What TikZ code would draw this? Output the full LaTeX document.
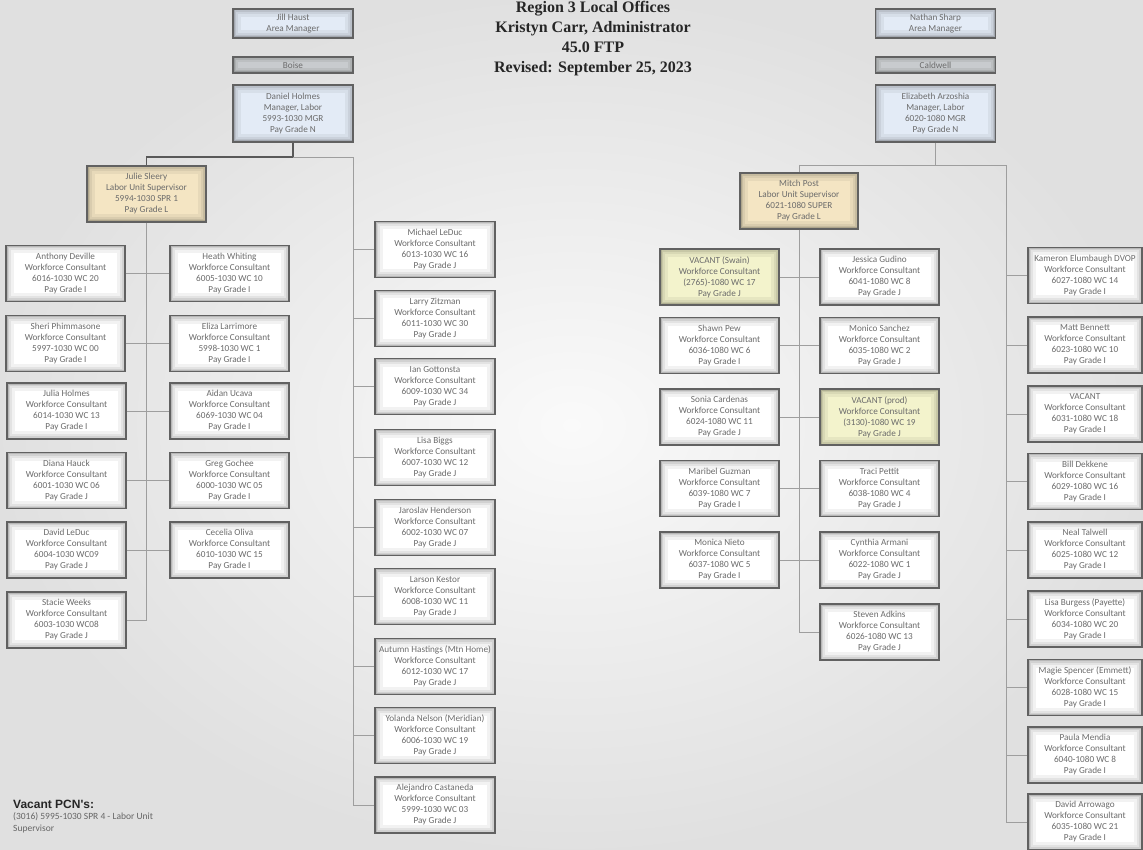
\documentclass[tikz,border=0pt]{standalone}
\usepackage{fontspec}
\setmainfont{Carlito}
\newfontfamily\titlefont{Liberation Serif}
\newfontfamily\notefont{Liberation Sans}
\usepackage{xcolor}
\usepackage{tikz}
\usetikzlibrary{positioning,calc}

\definecolor{bluefill}{HTML}{E3EBF6}
\definecolor{tanfill}{HTML}{F4E5C3}
\definecolor{vacfill}{HTML}{F3F3CC}
\definecolor{bosfill}{HTML}{D3D6DA}

\begin{document}
\begin{tikzpicture}[
    x=1pt, y=-1pt,
    box/.style={draw=black!62, line width=1.4pt, fill=#1, inner sep=1pt,
                minimum width=119pt, minimum height=56pt, align=center,
                font=\fontsize{9.2}{11}\selectfont, text=black!58,
                path picture={
                  \draw[black, opacity=0.05, line width=16pt] (path picture bounding box.south west) rectangle (path picture bounding box.north east);
                  \draw[black, opacity=0.06, line width=10pt] (path picture bounding box.south west) rectangle (path picture bounding box.north east);
                  \draw[black, opacity=0.08, line width=6pt] (path picture bounding box.south west) rectangle (path picture bounding box.north east);
                  \draw[black, opacity=0.12, line width=3pt] (path picture bounding box.south west) rectangle (path picture bounding box.north east);
                }},
    box/.default=white,
    lnk/.style={draw=black!38, line width=0.7pt},
    suplnk/.style={draw=black!65, line width=1.2pt},
]

% ===== Background =====
\useasboundingbox (0,0) rectangle (1143,850);
\shade[inner color=black!2, outer color=black!12] (0,0) rectangle (1143,850);

% ===== Title =====
\node[font=\titlefont\bfseries\fontsize{16}{20}\selectfont, align=center, text=black!85]
    (tt) at (593,39) {Region 3 Local Offices\\Kristyn Carr, Administrator\\45.0 FTP\\Revised: September 25, 2023};

% ===== Left office (Boise) =====
\node[box=bluefill, minimum width=120pt, minimum height=29pt] (jh) at (293,23.5) {Jill Haust\\Area Manager};
\node[box=bosfill, minimum width=120pt, minimum height=16pt] (bo) at (293,65) {Boise};
\node[box=bluefill, minimum width=120pt, minimum height=57pt] (dh) at (293,113.5)
    {Daniel Holmes\\Manager, Labor\\5993-1030 MGR\\Pay Grade N};
\node[box=tanfill] (js) at (146.5,194) {Julie Sleery\\Labor Unit Supervisor\\5994-1030 SPR 1\\Pay Grade L};

% left column A
\node[box] (la1) at (65.5,273.5) {Anthony Deville\\Workforce Consultant\\6016-1030 WC 20\\Pay Grade I};
\node[box] (la2) at (65.5,343.5) {Sheri Phimmasone\\Workforce Consultant\\5997-1030 WC 00\\Pay Grade I};
\node[box] (la3) at (66.5,411)   {Julia Holmes\\Workforce Consultant\\6014-1030 WC 13\\Pay Grade I};
\node[box] (la4) at (66.5,480.5) {Diana Hauck\\Workforce Consultant\\6001-1030 WC 06\\Pay Grade J};
\node[box] (la5) at (66.5,550)   {David LeDuc\\Workforce Consultant\\6004-1030 WC09\\Pay Grade J};
\node[box] (la6) at (66.5,620)   {Stacie Weeks\\Workforce Consultant\\6003-1030 WC08\\Pay Grade J};

% left column B
\node[box] (lb1) at (229.5,273.5) {Heath Whiting\\Workforce Consultant\\6005-1030 WC 10\\Pay Grade I};
\node[box] (lb2) at (229.5,343.5) {Eliza Larrimore\\Workforce Consultant\\5998-1030 WC 1\\Pay Grade I};
\node[box] (lb3) at (229.5,411)   {Aidan Ucava\\Workforce Consultant\\6069-1030 WC 04\\Pay Grade I};
\node[box] (lb4) at (229.5,480.5) {Greg Gochee\\Workforce Consultant\\6000-1030 WC 05\\Pay Grade I};
\node[box] (lb5) at (229.5,550)   {Cecelia Oliva\\Workforce Consultant\\6010-1030 WC 15\\Pay Grade I};

% middle column
\node[box, minimum width=120pt] (mc1) at (435,249.5) {Michael LeDuc\\Workforce Consultant\\6013-1030 WC 16\\Pay Grade J};
\node[box, minimum width=120pt] (mc2) at (435,318.5) {Larry Zitzman\\Workforce Consultant\\6011-1030 WC 30\\Pay Grade J};
\node[box, minimum width=120pt] (mc3) at (435,386.5) {Ian Gottonsta\\Workforce Consultant\\6009-1030 WC 34\\Pay Grade J};
\node[box, minimum width=120pt] (mc4) at (435,457.5) {Lisa Biggs\\Workforce Consultant\\6007-1030 WC 12\\Pay Grade J};
\node[box, minimum width=120pt] (mc5) at (435,527.5) {Jaroslav Henderson\\Workforce Consultant\\6002-1030 WC 07\\Pay Grade J};
\node[box, minimum width=120pt] (mc6) at (435,596.5) {Larson Kestor\\Workforce Consultant\\6008-1030 WC 11\\Pay Grade J};
\node[box, minimum width=120pt] (mc7) at (435,666.5) {Autumn Hastings (Mtn Home)\\Workforce Consultant\\6012-1030 WC 17\\Pay Grade J};
\node[box, minimum width=120pt] (mc8) at (435,735.5) {Yolanda Nelson (Meridian)\\Workforce Consultant\\6006-1030 WC 19\\Pay Grade J};
\node[box, minimum width=120pt] (mc9) at (435,805)   {Alejandro Castaneda\\Workforce Consultant\\5999-1030 WC 03\\Pay Grade J};

% ===== Right office (Caldwell) =====
\node[box=bluefill, minimum width=120pt, minimum height=29pt] (ns) at (935.5,23.5) {Nathan Sharp\\Area Manager};
\node[box=bosfill, minimum width=120pt, minimum height=16pt] (cw) at (935.5,65) {Caldwell};
\node[box=bluefill, minimum width=120pt, minimum height=57pt] (ea) at (935.5,113.5)
    {Elizabeth Arzoshia\\Manager, Labor\\6020-1080 MGR\\Pay Grade N};
\node[box=tanfill, minimum width=118pt] (mp) at (799,201) {Mitch Post\\Labor Unit Supervisor\\6021-1080 SUPER\\Pay Grade L};

% right column A
\node[box=vacfill] (ra1) at (719.5,277)   {VACANT (Swain)\\Workforce Consultant\\(2765)-1080 WC 17\\Pay Grade J};
\node[box] (ra2) at (719.5,345.5) {Shawn Pew\\Workforce Consultant\\6036-1080 WC 6\\Pay Grade I};
\node[box] (ra3) at (719.5,417)   {Sonia Cardenas\\Workforce Consultant\\6024-1080 WC 11\\Pay Grade J};
\node[box] (ra4) at (719.5,488.5) {Maribel Guzman\\Workforce Consultant\\6039-1080 WC 7\\Pay Grade I};
\node[box] (ra5) at (719.5,560)   {Monica Nieto\\Workforce Consultant\\6037-1080 WC 5\\Pay Grade I};

% right column B
\node[box] (rb1) at (879.5,277)   {Jessica Gudino\\Workforce Consultant\\6041-1080 WC 8\\Pay Grade J};
\node[box] (rb2) at (879.5,345.5) {Monico Sanchez\\Workforce Consultant\\6035-1080 WC 2\\Pay Grade J};
\node[box=vacfill] (rb3) at (879.5,417) {VACANT (prod)\\Workforce Consultant\\(3130)-1080 WC 19\\Pay Grade J};
\node[box] (rb4) at (879.5,488.5) {Traci Pettit\\Workforce Consultant\\6038-1080 WC 4\\Pay Grade J};
\node[box] (rb5) at (879.5,560)   {Cynthia Armani\\Workforce Consultant\\6022-1080 WC 1\\Pay Grade J};
\node[box] (rb6) at (879.5,632)   {Steven Adkins\\Workforce Consultant\\6026-1080 WC 13\\Pay Grade J};

% right column C
\node[box, minimum width=114pt] (rc1) at (1085,275.5) {Kameron Elumbaugh DVOP\\Workforce Consultant\\6027-1080 WC 14\\Pay Grade I};
\node[box, minimum width=114pt] (rc2) at (1085,345)   {Matt Bennett\\Workforce Consultant\\6023-1080 WC 10\\Pay Grade I};
\node[box, minimum width=114pt] (rc3) at (1085,414)   {VACANT\\Workforce Consultant\\6031-1080 WC 18\\Pay Grade I};
\node[box, minimum width=114pt] (rc4) at (1085,481.5) {Bill Dekkene\\Workforce Consultant\\6029-1080 WC 16\\Pay Grade I};
\node[box, minimum width=114pt] (rc5) at (1085,550)   {Neal Talwell\\Workforce Consultant\\6025-1080 WC 12\\Pay Grade I};
\node[box, minimum width=114pt] (rc6) at (1085,619)   {Lisa Burgess (Payette)\\Workforce Consultant\\6034-1080 WC 20\\Pay Grade I};
\node[box, minimum width=114pt] (rc7) at (1085,687.5) {Magie Spencer (Emmett)\\Workforce Consultant\\6028-1080 WC 15\\Pay Grade I};
\node[box, minimum width=114pt] (rc8) at (1085,755)   {Paula Mendia\\Workforce Consultant\\6040-1080 WC 8\\Pay Grade I};
\node[box, minimum width=114pt] (rc9) at (1085,822)   {David Arrowago\\Workforce Consultant\\6035-1080 WC 21\\Pay Grade I};

% ===== Vacant note =====
\node[anchor=north west, inner sep=0pt, font=\notefont\bfseries\fontsize{12}{13}\selectfont, text=black!85]
    (vp) at (13,800) {Vacant PCN's:};
\node[inner sep=0pt, align=left, font=\fontsize{9.5}{12}\selectfont, text=black!60,
      below=3pt of vp.south west, anchor=north west]
    (vn) {(3016) 5995-1030 SPR 4 - Labor Unit\\Supervisor};

% ===== Left connectors =====
\coordinate (lbus) at (293,157);
\coordinate (lsp) at (353,157);
\draw[suplnk] (dh.south) -- (lbus) -| (js.north);
\draw[lnk] (lbus) -- (lsp) |- (mc9.west);
\foreach \i in {1,...,8} \draw[lnk] (mc\i.west -| lsp) -- (mc\i.west);
\draw[lnk] (js.south) |- (la6.east);
\foreach \i in {1,...,5} \draw[lnk] (la\i.east) -- (lb\i.west);

% ===== Right connectors =====
\coordinate (rbus) at (935.5,165);
\coordinate (rsp) at (1006,165);
\draw[lnk] (ea.south) -- (rbus);
\draw[lnk] (mp.north |- rbus) -- (rsp) |- (rc9.west);
\draw[lnk] (mp.north |- rbus) -- (mp.north);
\draw[lnk] (mp.south) |- (rb6.west);
\foreach \i in {1,...,5} \draw[lnk] (ra\i.east) -- (rb\i.west);
\foreach \i in {1,...,8} \draw[lnk] (rc\i.west -| rsp) -- (rc\i.west);

\end{tikzpicture}
\end{document}
